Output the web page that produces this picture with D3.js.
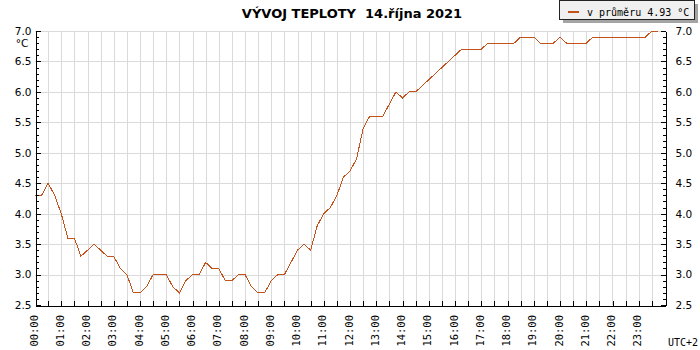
<!DOCTYPE html>
<meta charset="utf-8">
<body style="margin:0;background:white">
  <div id="chart"></div>
</body>
<script src="https://cdn.jsdelivr.net/npm/d3@7"></script>
<script>
// temperature readings, one every 15 minutes from 00:00
var temps = [
  4.3, 4.3, 4.5, 4.3,   // 00
  4.0, 3.6, 3.6, 3.3,   // 01
  3.4, 3.5, 3.4, 3.3,   // 02
  3.3, 3.1, 3.0, 2.7,   // 03
  2.7, 2.8, 3.0, 3.0,   // 04
  3.0, 2.8, 2.7, 2.9,   // 05
  3.0, 3.0, 3.2, 3.1,   // 06
  3.1, 2.9, 2.9, 3.0,   // 07
  3.0, 2.8, 2.7, 2.7,   // 08
  2.9, 3.0, 3.0, 3.2,   // 09
  3.4, 3.5, 3.4, 3.8,   // 10
  4.0, 4.1, 4.3, 4.6,   // 11
  4.7, 4.9, 5.4, 5.6,   // 12
  5.6, 5.6, 5.8, 6.0,   // 13
  5.9, 6.0, 6.0, 6.1,   // 14
  6.2, 6.3, 6.4, 6.5,   // 15
  6.6, 6.7, 6.7, 6.7,   // 16
  6.7, 6.8, 6.8, 6.8,   // 17
  6.8, 6.8, 6.9, 6.9,   // 18
  6.9, 6.8, 6.8, 6.8,   // 19
  6.9, 6.8, 6.8, 6.8,   // 20
  6.8, 6.9, 6.9, 6.9,   // 21
  6.9, 6.9, 6.9, 6.9,   // 22
  6.9, 6.9, 7.0, 7.0    // 23
];
var stepMinutes = 15;

var hourLabels = ["00:00","01:00","02:00","03:00","04:00","05:00","06:00","07:00",
  "08:00","09:00","10:00","11:00","12:00","13:00","14:00","15:00",
  "16:00","17:00","18:00","19:00","20:00","21:00","22:00","23:00"];
var yTicks = [2.5, 3.0, 3.5, 4.0, 4.5, 5.0, 5.5, 6.0, 6.5, 7.0];
var yMinor = [2.6,2.7,2.8,2.9,3.1,3.2,3.3,3.4,3.6,3.7,3.8,3.9,4.1,4.2,4.3,4.4,
  4.6,4.7,4.8,4.9,5.1,5.2,5.3,5.4,5.6,5.7,5.8,5.9,6.1,6.2,6.3,6.4,6.6,6.7,6.8,6.9];
var halfHours = [30,60,90,120,150,180,210,240,270,300,330,360,390,420,450,480,510,540,
  570,600,630,660,690,720,750,780,810,840,870,900,930,960,990,1020,1050,1080,1110,1140,
  1170,1200,1230,1260,1290,1320,1350,1380,1410];

var titleText = "VÝVOJ TEPLOTY  14.října 2021";
var legendText = "v průměru 4.93 °C";

var chart = { width: 700, height: 350, left: 35, right: 665, top: 31, bottom: 305 };
var lineColor = "#c4521a";
var gridColor = "#dadada";
var mono = "'DejaVu Sans Mono', monospace";
var sans = "'DejaVu Sans', Verdana, sans-serif";

var svg = d3.select("#chart").append("svg")
  .attr("width", chart.width).attr("height", chart.height)
  .style("background", "white");

var x = d3.scaleLinear().domain([0, 1440]).range([chart.left, chart.right]);
var y = d3.scaleLinear().domain([2.5, 7.0]).range([chart.bottom, chart.top]);

function px(v) { return Math.round(v) + 0.5; }

// grid
var grid = svg.append("g").attr("shape-rendering", "crispEdges")
  .attr("stroke", gridColor).attr("stroke-width", 1);
grid.selectAll(".vg").data(halfHours).enter().append("line")
  .attr("x1", function (d) { return px(x(d)); }).attr("x2", function (d) { return px(x(d)); })
  .attr("y1", chart.top).attr("y2", chart.bottom);
grid.selectAll(".hg").data(yTicks.slice(1)).enter().append("line")
  .attr("x1", chart.left).attr("x2", chart.right)
  .attr("y1", function (d) { return px(y(d)); }).attr("y2", function (d) { return px(y(d)); });

// data line
var line = d3.line()
  .x(function (d, i) { return x(i * stepMinutes); })
  .y(function (d) { return y(d); });
svg.append("path").datum(temps)
  .attr("d", line)
  .attr("fill", "none")
  .attr("stroke", lineColor)
  .attr("stroke-width", 1)
  .attr("shape-rendering", "crispEdges");

// axes
function styleAxis(g) {
  g.attr("shape-rendering", "crispEdges");
  g.select(".domain").attr("stroke", "#000");
  g.selectAll(".tick line").attr("stroke", "#000");
  g.selectAll("text").attr("fill", "#000");
}

var leftAxis = svg.append("g").attr("transform", "translate(" + px(chart.left) + ",0)")
  .call(d3.axisLeft(y).tickValues(yTicks).tickSize(-5).tickSizeOuter(0).tickPadding(4)
    .tickFormat(d3.format(".1f")));
leftAxis.attr("font-family", sans).attr("font-size", 10.5);
styleAxis(leftAxis);
var leftMinor = svg.append("g").attr("transform", "translate(" + px(chart.left) + ",0)")
  .call(d3.axisLeft(y).tickValues(yMinor).tickSize(-3).tickSizeOuter(0).tickFormat(""));
styleAxis(leftMinor);

var rightAxis = svg.append("g").attr("transform", "translate(" + px(chart.right) + ",0)")
  .call(d3.axisRight(y).tickValues(yTicks).tickSize(-5).tickSizeOuter(0).tickPadding(10)
    .tickFormat(d3.format(".1f")));
rightAxis.attr("font-family", sans).attr("font-size", 10.5);
styleAxis(rightAxis);
var rightMinor = svg.append("g").attr("transform", "translate(" + px(chart.right) + ",0)")
  .call(d3.axisRight(y).tickValues(yMinor).tickSize(-3).tickSizeOuter(0).tickFormat(""));
styleAxis(rightMinor);

var bottomAxis = svg.append("g").attr("transform", "translate(0," + px(chart.bottom) + ")")
  .call(d3.axisBottom(x).tickValues(halfHours).tickSize(-5).tickSizeOuter(0).tickFormat(""));
styleAxis(bottomAxis);

// unit under the top label
svg.append("text").attr("x", 22).attr("y", 47)
  .attr("text-anchor", "middle").attr("font-family", sans).attr("font-size", 10.5)
  .text("°C");

// hour labels, rotated
svg.append("g").selectAll("text").data(hourLabels).enter().append("text")
  .attr("transform", function (d, i) { return "translate(" + (x(i * 60) - 1) + ",315) rotate(-90)"; })
  .attr("text-anchor", "end")
  .attr("dy", "0.35em")
  .attr("font-family", mono).attr("font-size", 10.5)
  .text(function (d) { return d; });

svg.append("text").attr("x", 698).attr("y", 346)
  .attr("text-anchor", "end").attr("font-family", mono).attr("font-size", 10)
  .text("UTC+2");

// title
svg.append("text").attr("x", 352).attr("y", 18)
  .attr("text-anchor", "middle").attr("font-family", sans).attr("font-weight", "bold")
  .attr("font-size", 13).style("white-space", "pre")
  .text(titleText);

// legend
var legend = svg.append("g").attr("shape-rendering", "crispEdges");
legend.append("rect").attr("x", 563).attr("y", 4).attr("width", 135).attr("height", 19)
  .attr("fill", "#a4a4a4");
legend.append("rect").attr("x", 559.5).attr("y", 0.5).attr("width", 135).attr("height", 19)
  .attr("fill", "#f0f0f0").attr("stroke", "#222");
legend.append("line").attr("x1", 568).attr("x2", 579).attr("y1", 12).attr("y2", 12)
  .attr("stroke", lineColor).attr("stroke-width", 2);
legend.append("text").attr("x", 587).attr("y", 15.5)
  .attr("font-family", mono).attr("font-size", 10)
  .text(legendText);
</script>
